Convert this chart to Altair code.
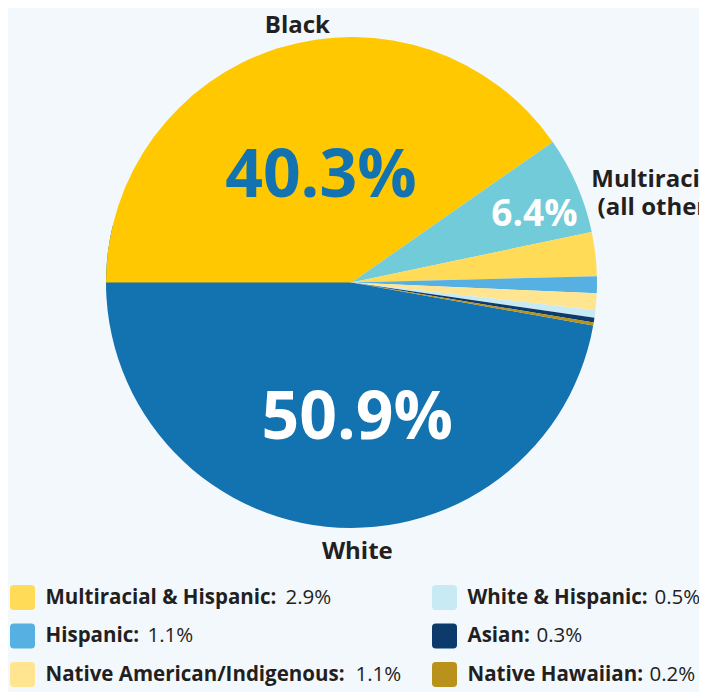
import math
import altair as alt
import pandas as pd

# ---------------- data ----------------
groups = ["Black", "Multiracial (all other)", "Multiracial & Hispanic", "Hispanic",
          "Native American/Indigenous", "White & Hispanic", "Asian", "Native Hawaiian", "White"]
shares = [40.3, 6.4, 2.9, 1.1, 1.1, 0.5, 0.3, 0.2, 50.9]
colors = ["#ffc800", "#72cbd8", "#ffdb58", "#56b0e2", "#ffe58f", "#c8eaf5", "#0b3a6b", "#b8921a", "#1273b0"]
outer_labels = ["Black", "Multiracial\n(all other)", "", "", "", "", "", "", "White"]
legend_groups = ["Multiracial & Hispanic", "Hispanic", "Native American/Indigenous",
                 "White & Hispanic", "Asian", "Native Hawaiian"]

# ---------------- layout / style ----------------
FONT = "Open Sans"
DARK = "#231f20"
W, H = 691, 684
CX, CY, R = 343.5, 274.5, 245.5
LEG_FS = 20.5
value_dx = {"Multiracial & Hispanic": 263, "Hispanic": 125, "Native American/Indigenous": 333,
            "White & Hispanic": 210, "Asian": 92, "Native Hawaiian": 205}

share_of = dict(zip(groups, shares))
pie_df = pd.DataFrame({
    "group": groups,
    "share": shares,
    "idx": list(range(len(groups))),
    "z": [0 if g == "White" else 1 for g in groups],
    "label": [f"{s}%" for s in shares],
    "outer": outer_labels,
})

theta_scale = alt.Scale(domain=[0, 100], range=[1.5 * math.pi, 3.5 * math.pi])
color_scale = alt.Scale(domain=groups, range=colors)

base = alt.Chart(pie_df).transform_stack(
    stack="share", groupby=[], as_=["start", "end"],
    sort=[alt.SortField("idx", order="ascending")]
).transform_calculate(mid="(datum.start + datum.end) / 2")

arcs = base.mark_arc(radius=R).encode(
    theta=alt.Theta("start:Q", scale=theta_scale, stack=False),
    theta2="end:Q",
    color=alt.Color("group:N", scale=color_scale, legend=None),
    order=alt.Order("z:Q"),
    x=alt.value(CX), y=alt.value(CY),
)


def slice_text(name, field, size, color, r, dx=0, dy=0, weight="bold"):
    return base.transform_filter(alt.datum.group == name).mark_text(
        radius=r, fontSize=size, fontWeight=weight, font=FONT, color=color,
        dx=dx, dy=dy, align="center", baseline="middle", lineBreak="\n", lineHeight=28,
    ).encode(
        theta=alt.Theta("mid:Q", scale=theta_scale, stack=False),
        text=alt.Text(f"{field}:N"),
        x=alt.value(CX), y=alt.value(CY),
    )


labels = [
    slice_text("Black", "label", 66, "#1273b0", 112, dx=3, dy=1),
    slice_text("White", "label", 66, "#ffffff", 134, dx=33, dy=5),
    slice_text("Multiracial (all other)", "label", 37, "#ffffff", 196, dx=3, dy=10),
    slice_text("Black", "outer", 24, DARK, 267, dx=26, dy=-2),
    slice_text("White", "outer", 24, DARK, 272, dx=61, dy=3),
    slice_text("Multiracial (all other)", "outer", 24, DARK, 316, dx=15, dy=23),
]

# ---------------- custom legend ----------------
leg_df = pd.DataFrame({
    "group": legend_groups,
    "name": [g + ":" for g in legend_groups],
    "value": [f"{share_of[g]}%" for g in legend_groups],
    "col": [i // 3 for i in range(len(legend_groups))],
    "row": [i % 3 for i in range(len(legend_groups))],
})

ROUNDED = ("M -0.7,-1 L 0.7,-1 Q 1,-1 1,-0.7 L 1,0.7 Q 1,1 0.7,1 L -0.7,1 "
           "Q -1,1 -1,0.7 L -1,-0.7 Q -1,-1 -0.7,-1 Z")

legend_base = alt.Chart(leg_df).encode(
    x=alt.X("col:Q", scale=alt.Scale(domain=[0, 1], range=[14.5, 436.5]), axis=None),
    y=alt.Y("row:Q", scale=alt.Scale(domain=[0, 2], range=[589.5, 666.5]), axis=None),
)

swatches = legend_base.mark_point(shape=ROUNDED, size=625, filled=True, opacity=1, strokeWidth=0).encode(
    color=alt.Color("group:N", scale=color_scale, legend=None)
)
names = legend_base.mark_text(
    align="left", baseline="middle", dx=23, fontSize=LEG_FS, fontWeight="bold", font=FONT, color=DARK
).encode(text="name:N")
values = [
    legend_base.transform_filter(alt.datum.group == g).mark_text(
        align="left", baseline="middle", dx=d, fontSize=LEG_FS, fontWeight="normal", font=FONT, color=DARK
    ).encode(text="value:N")
    for g, d in value_dx.items()
]

chart = alt.layer(arcs, *labels, swatches, names, *values).properties(
    width=W, height=H, padding=0,
    autosize=alt.AutoSizeParams(type="none"),
    background="#f3f8fd",
).configure_view(stroke=None)

chart.save("out.html", embed_options={"renderer": "svg", "actions": False})
